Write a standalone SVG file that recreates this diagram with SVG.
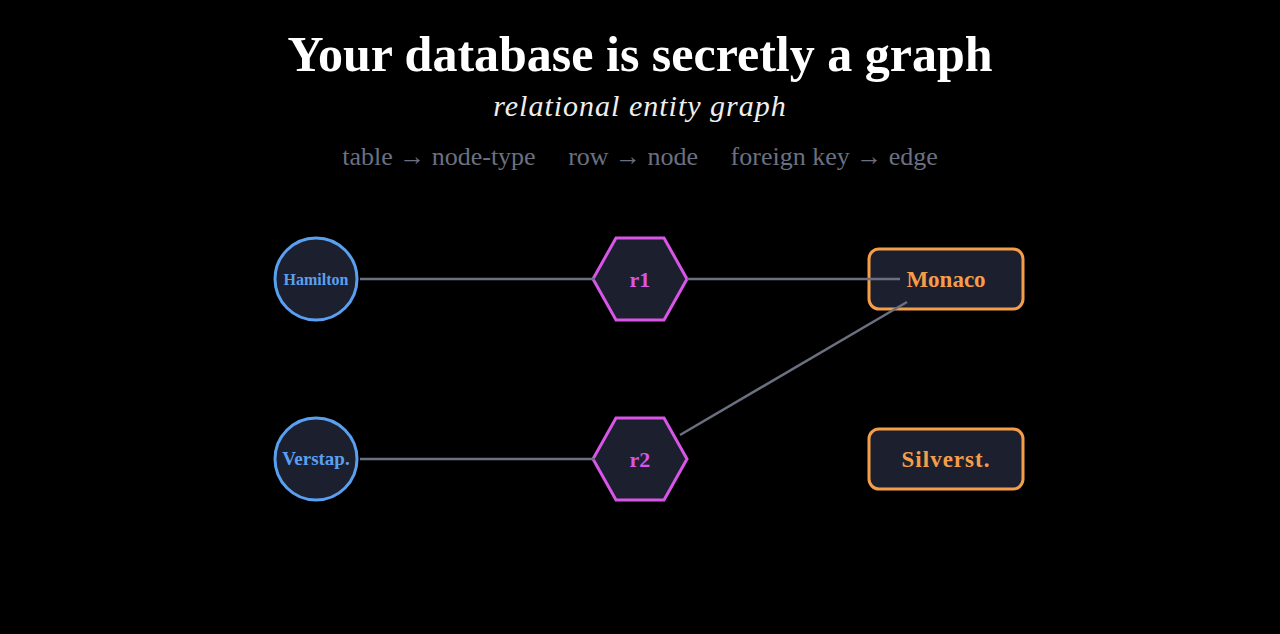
<svg xmlns="http://www.w3.org/2000/svg" width="1280" height="634" viewBox="0 0 1280 634">
<style>
text{font-family:"Liberation Serif","Times New Roman",serif;text-anchor:middle}
.t{fill:#fff;font-size:50px;font-weight:bold}
.s{fill:#eee;font-size:30px;font-style:italic;letter-spacing:1px}
.m{fill:#6b7080;font-size:26px}
.e{stroke:#6b7080;stroke-width:2.5;fill:none}
.c{fill:#1c1f2e;stroke:#5aa0f0;stroke-width:3}
.h{fill:#1c1f2e;stroke:#d855e8;stroke-width:3}
.r{fill:#1c1f2e;stroke:#f59e4a;stroke-width:3}
.lc{fill:#5aa0f0;font-weight:bold}
.lh{fill:#d855e8;font-weight:bold;font-size:22px}
.lr{fill:#f59e4a;font-weight:bold;font-size:23px}
</style>
<rect width="1280" height="634" fill="#000"/>
<text class="t" x="640" y="71">Your database is secretly a graph</text>
<text class="s" x="640" y="116">relational entity graph</text>
<text class="m" x="640" y="165" xml:space="preserve">table → node-type     row → node     foreign key → edge</text>
<g id="n-hamilton"><circle class="c" cx="316" cy="279" r="41"/><text class="lc" x="316" y="285" font-size="16">Hamilton</text></g>
<g id="n-verstap"><circle class="c" cx="316" cy="459" r="41"/><text class="lc" x="316" y="465" font-size="19">Verstap.</text></g>
<g id="n-r1"><polygon class="h" points="593,279 616,238 664,238 687,279 664,320 616,320"/><text class="lh" x="640" y="287">r1</text></g>
<g id="n-r2"><polygon class="h" points="593,459 616,418 664,418 687,459 664,500 616,500"/><text class="lh" x="640" y="467">r2</text></g>
<g id="n-monaco"><rect class="r" x="869" y="249" width="154" height="60" rx="10"/><text class="lr" x="946" y="287">Monaco</text></g>
<g id="n-silverst"><rect class="r" x="869" y="429" width="154" height="60" rx="10"/><text class="lr" x="946" y="467" letter-spacing="1">Silverst.</text></g>
<g id="connectors">
<line class="e" x1="360" y1="279" x2="595" y2="279"/>
<line class="e" x1="360" y1="459" x2="595" y2="459"/>
<line class="e" x1="687" y1="279" x2="900" y2="279"/>
<line class="e" x1="680" y1="435" x2="907" y2="302"/>
</g>
</svg>
